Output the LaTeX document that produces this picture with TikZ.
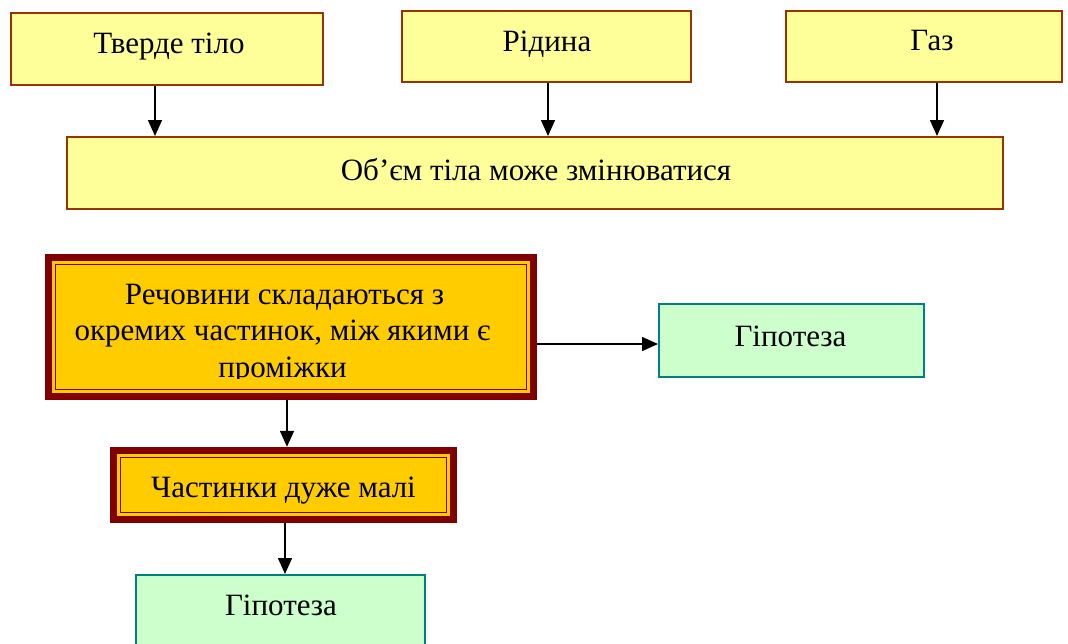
\documentclass[tikz,border=0pt]{standalone}
\usepackage{fontspec}
\setmainfont{Liberation Serif}
\usetikzlibrary{arrows.meta}
\definecolor{paleyellow}{HTML}{FFFF99}
\definecolor{brownline}{HTML}{993300}
\definecolor{darkred}{HTML}{800000}
\definecolor{gold}{HTML}{FFCC00}
\definecolor{palegreen}{HTML}{CCFFCC}
\definecolor{tealline}{HTML}{008080}
\tikzset{
  topbox/.style={draw=brownline, fill=paleyellow, line width=2pt, inner sep=0pt},
  frameouter/.style={fill=darkred, inner sep=0pt},
  hypbox/.style={draw=tealline, fill=palegreen, line width=2pt, inner sep=0pt},
  txt/.style={anchor=base, inner sep=0pt, font=\fontsize{31}{36}\selectfont},
  arr/.style={-{Triangle[length=16pt,width=14pt]}, line width=1.5pt, black},
  innerline/.style={draw=darkred, line width=1.6pt},
  goldfill/.style={fill=gold}
}
\begin{document}
\begin{tikzpicture}[x=1pt,y=-1pt]
\useasboundingbox (0,0) rectangle (1068,643);
\begin{scope}
\clip (0,0) rectangle (1068,643);
% top boxes
\node[topbox, minimum width=312pt, minimum height=72pt] (tv) at (167,49) {};
\node[topbox, minimum width=289pt, minimum height=71pt] (rd) at (546.5,46.5) {};
\node[topbox, minimum width=276pt, minimum height=71pt] (gz) at (924,46.5) {};
\node[topbox, minimum width=936pt, minimum height=72pt] (ob) at (535,173) {};
\node[txt] (tvt) at (169,53) {Тверде тіло};
\node[txt] (rdt) at (547,51) {Рідина};
\node[txt] (gzt) at (932,50) {Газ};
\node[txt] (obt) at (536,180) {Об’єм тіла може змінюватися};
% framed box 1
\node[frameouter, minimum width=492pt, minimum height=146pt] (rech) at (291,327) {};
\fill[goldfill] ([shift={(7.5pt,-7.5pt)}]rech.north west) rectangle ([shift={(-7.5pt,7.5pt)}]rech.south east);
\draw[innerline] ([shift={(10.6pt,-10.6pt)}]rech.north west) rectangle ([shift={(-10.6pt,10.6pt)}]rech.south east);
\node[txt] (r1) at (284.5,304) {Речовини складаються з};
\node[txt] (r2) at (282.5,340) {окремих частинок, між якими є};
\begin{scope}
\clip (0,0) rectangle (1068,378.5);
\node[txt] (r3) at (282.5,377) {проміжки};
\end{scope}
% framed box 2
\node[frameouter, minimum width=347pt, minimum height=76pt] (ch) at (283.5,485) {};
\fill[goldfill] ([shift={(7.5pt,-7.5pt)}]ch.north west) rectangle ([shift={(-7.5pt,7.5pt)}]ch.south east);
\draw[innerline] ([shift={(10.6pt,-10.6pt)}]ch.north west) rectangle ([shift={(-10.6pt,10.6pt)}]ch.south east);
\node[txt] (cht) at (283.5,497) {Частинки дуже малі};
% hypothesis boxes
\node[hypbox, minimum width=265pt, minimum height=73pt] (h1) at (791.5,340.5) {};
\node[txt] (h1t) at (790.5,346) {Гіпотеза};
\node[hypbox, minimum width=289pt, minimum height=74pt] (h2) at (280.5,612) {};
\node[txt] (h2t) at (281,615) {Гіпотеза};
\end{scope}
% arrows
\draw[arr] ([xshift=-12pt]tv.south) -- ([xshift=-12pt]tv.south |- ob.north);
\draw[arr] ([xshift=1.5pt]rd.south) -- ([xshift=1.5pt]rd.south |- ob.north);
\draw[arr] ([xshift=13pt]gz.south) -- ([xshift=13pt]gz.south |- ob.north);
\draw[arr] ([yshift=-17pt]rech.east) -- ([yshift=-17pt]rech.east -| h1.west);
\draw[arr] ([xshift=-4pt]rech.south) -- ([xshift=-4pt]rech.south |- ch.north);
\draw[arr] ([xshift=1.5pt]ch.south) -- ([xshift=1.5pt]ch.south |- h2.north);
\end{tikzpicture}
\end{document}
